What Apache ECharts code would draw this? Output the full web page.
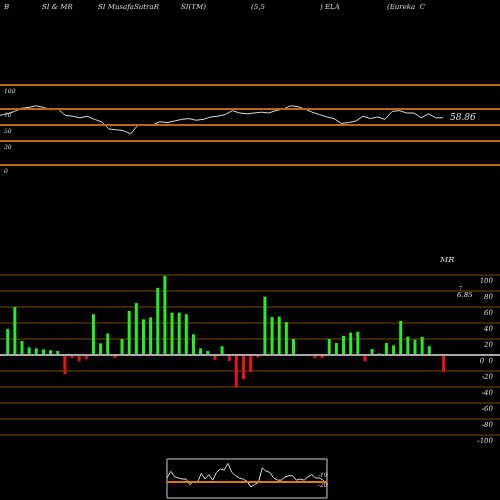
<!DOCTYPE html><html><head><meta charset="utf-8"><script src="https://cdn.jsdelivr.net/npm/echarts@6/dist/echarts.min.js"></script></head><body style="margin:0;background:#000"><div id="c" style="width:500px;height:500px"></div><script>
const titleTexts=[["B",4],["SI & MR",42],["SI MusafaSutraR",98],["SI(TM)",181],["(5,5",251],[") ELA",320],["(Eureka  C",387]];
const rsiValues=[62,64,67,71,72,74,72,69,70,62,61,59,61,57,54,45,44,43,39,50,50,50,54,53,55,57,58,56,57,60,61,63,68,65,64,65,66,65,68,70,74,73,70,66,63,60,58,52,53,55,61,58,60,57,67,68,65,65,59,64,59,59];
const rsiLevels=[100,70,50,30,0];
const rsiTickLabels=["100","70","50","30","0"];
const mrsiTicks=[100,80,60,40,20,0,-20,-40,-60,-80,-100];
const mrsiValues=[32.5,60,17.5,9.6,8.3,7,6,5,-24,-4,-8,-5.4,51,14.6,27,-4,20,55,65,44.6,47,84,99,53,53,51,26,8.3,5,-6,11,-7.5,-40,-30,-21,-3,73,47.5,48,41,20,1,-1,-4,-4,20,15,24,28,29,-8,7.5,2,15,12,42.5,23,19,22.5,11,1,-21];
const miniValues=[3,9,4,3,2,2,-3,0,-1,7,2,6,1,8,11,10,16,8,5,3,2,0,-5,-3,-1,12,9,8,3,1,1,4,5,5,1,2,1,4,6,3,3,1,-3];
const ch=echarts.init(document.getElementById('c'));
const T={fill:'#ddd',fontStyle:'italic',fontFamily:'DejaVu Serif',fontSize:7};
// pixel helpers matching the grids below
const rsiY=v=>85+80*(100-v)/100, mY=v=>275+160*(100-v)/200;
const g=[];
titleTexts.forEach(t=>g.push({type:'text',x:t[1],y:4,style:Object.assign({text:t[0]},T)}));
rsiLevels.forEach((v,i)=>g.push({type:'text',x:4,y:rsiY(v)+3,style:Object.assign({text:rsiTickLabels[i]},T,{fontSize:6})}));
mrsiTicks.forEach(v=>g.push({type:'text',x:493,y:mY(v)+3,style:Object.assign({text:v===0?'0  0':String(v),align:'right'},T)}));
g.push({type:'text',x:450,y:rsiY(rsiValues[rsiValues.length-1])-5,style:Object.assign({text:'58.86'},T,{fontSize:9})});
g.push({type:'text',x:440,y:256,style:Object.assign({text:'MR'},T,{fontSize:8})});
g.push({type:'text',x:459,y:286,style:Object.assign({text:'7'},T,{fontSize:5})});
g.push({type:'text',x:457,y:292,style:Object.assign({text:'6.85'},T)});
g.push({type:'text',x:318,y:472,style:Object.assign({text:'-19'},T,{fontSize:6})});
g.push({type:'text',x:318,y:482,style:Object.assign({text:'-20'},T,{fontSize:6})});
ch.setOption({backgroundColor:'#000',animation:false,graphic:g,
grid:[{left:0,top:85,width:500,height:80},{left:0,top:275,width:500,height:160},{left:167,top:459,width:160,height:39,show:true,borderColor:'#ccc',borderWidth:1}],
xAxis:[{gridIndex:0,type:'value',min:0,max:68.85,show:false},{gridIndex:1,type:'value',min:-1.08,max:68.9,show:false},{gridIndex:2,type:'value',min:0,max:miniValues.length-1,show:false}],
yAxis:[{gridIndex:0,type:'value',min:0,max:100,show:false,splitLine:{show:false}},
{gridIndex:1,type:'value',min:-100,max:100,interval:20,axisLine:{show:false},axisTick:{show:false},axisLabel:{show:false},splitLine:{show:true,lineStyle:{color:'#3d2600',width:2}}},
{gridIndex:2,type:'value',min:-15,max:20,show:false,splitLine:{show:false}}],
series:[{type:'line',xAxisIndex:0,yAxisIndex:0,data:rsiValues.map((v,i)=>[i,v]),symbol:'none',lineStyle:{color:'#ddd',width:1},
markLine:{silent:true,symbol:'none',label:{show:false},lineStyle:{color:'#b8690a',width:2,type:'solid'},data:rsiLevels.map(v=>({yAxis:v}))}},
{type:'bar',xAxisIndex:1,yAxisIndex:1,barWidth:3,data:mrsiValues.map((v,i)=>({value:[i,v],itemStyle:{color:v>=0?'#22ee22':'#ee1111'}})),
markLine:{silent:true,symbol:'none',label:{show:false},lineStyle:{color:'#aaa',width:2,type:'solid'},data:[{yAxis:0}]}},
{type:'line',xAxisIndex:2,yAxisIndex:2,data:miniValues.map((v,i)=>[i,v]),symbol:'none',lineStyle:{color:'#ddd',width:1},
markLine:{silent:true,symbol:'none',label:{show:false},lineStyle:{color:'#e07800',width:2,type:'solid'},data:[{yAxis:0}]}}]});
</script></body></html>
